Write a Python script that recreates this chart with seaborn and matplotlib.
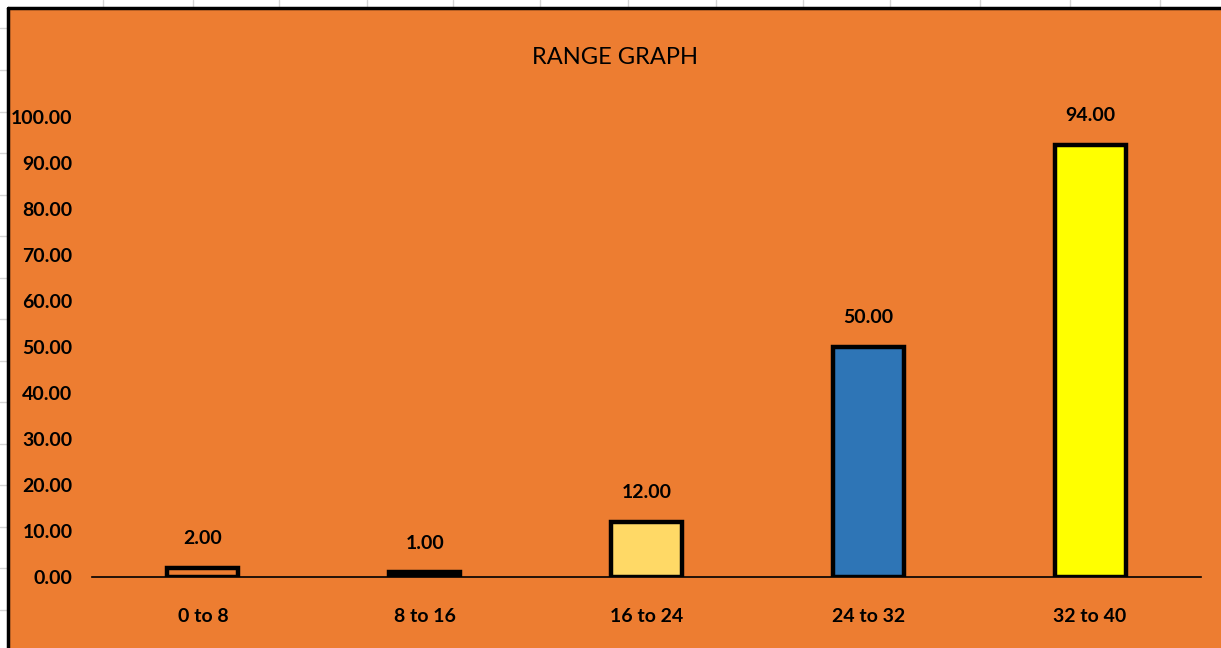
import matplotlib
matplotlib.use("Agg")
import matplotlib.pyplot as plt
import seaborn as sns
import pandas as pd
from matplotlib.patches import Rectangle
from matplotlib.lines import Line2D

categories = ["0 to 8", "8 to 16", "16 to 24", "24 to 32", "32 to 40"]
values = [2.0, 1.0, 12.0, 50.0, 94.0]
bar_colors = ["#ED7D31", "#000000", "#FFD966", "#2E75B6", "#FFFF00"]
y_ticks = [0, 10, 20, 30, 40, 50, 60, 70, 80, 90, 100]
title = "RANGE GRAPH"

sns.set_theme(style="white")
plt.rcParams['font.family'] = ['Lato', 'DejaVu Sans']

BG = "#ED7D31"
W, H = 1221, 648
fig = plt.figure(figsize=(W / 100, H / 100), dpi=100, facecolor="white")

# spreadsheet background gridlines (outside chart area)
for x in [103, 193, 279, 367, 453, 540, 628, 716, 803, 890, 980, 1070, 1160]:
    fig.add_artist(Line2D([x / W, x / W], [1 - 8 / H, 1], color="#d4d4d4", lw=1))
for y in [28, 70, 112, 153, 195, 236, 278, 319, 361, 402, 444, 485, 527, 568, 610]:
    fig.add_artist(Line2D([0, 8 / W], [1 - y / H, 1 - y / H], color="#d4d4d4", lw=1))

# chart area
fig.add_artist(Rectangle((8 / W, 0), 1 - 8 / W, 1 - 8 / H, transform=fig.transFigure,
                         facecolor=BG, edgecolor="none", zorder=0))
fig.add_artist(Line2D([8 / W, 1], [1 - 8 / H, 1 - 8 / H], color="black", lw=2.5))
fig.add_artist(Line2D([8 / W, 8 / W], [0, 1 - 8 / H], color="black", lw=2.5))

ax = fig.add_axes([92 / W, (H - 577) / H, 1109 / W, 460 / H])
ax.set_facecolor("none")

df = pd.DataFrame({"cat": categories, "val": values})
sns.barplot(data=df, x="cat", y="val", hue="cat", palette=bar_colors, legend=False,
            width=0.32, edgecolor="black", linewidth=3.2, saturation=1, ax=ax)

ax.set_ylim(0, 100)
ax.set_xlim(-0.5, len(categories) - 0.5)
ax.set_yticks(y_ticks)
ax.set_yticklabels([f"{t:.2f}" for t in y_ticks])
for s in ["top", "right", "left"]:
    ax.spines[s].set_visible(False)
ax.spines["bottom"].set_color("black")
ax.spines["bottom"].set_linewidth(1.2)
ax.tick_params(axis="both", length=0, labelsize=14, labelcolor="black")
ax.tick_params(axis="y", pad=14)
ax.tick_params(axis="x", pad=22)
for lbl in ax.get_xticklabels() + ax.get_yticklabels():
    lbl.set_fontweight("bold")
ax.set_xlabel("")
ax.set_ylabel("")

for i, v in enumerate(values):
    ax.annotate(f"{v:.2f}", (i, v), xytext=(0, 21), textcoords="offset points",
                ha="center", va="center", fontsize=14, fontweight="bold",
                color="black", annotation_clip=False)

fig.text(615 / W, 1 - 58 / H, title, ha="center", va="center", fontsize=17,
         color="black")

fig.savefig("out.png", dpi=100, facecolor="white")
